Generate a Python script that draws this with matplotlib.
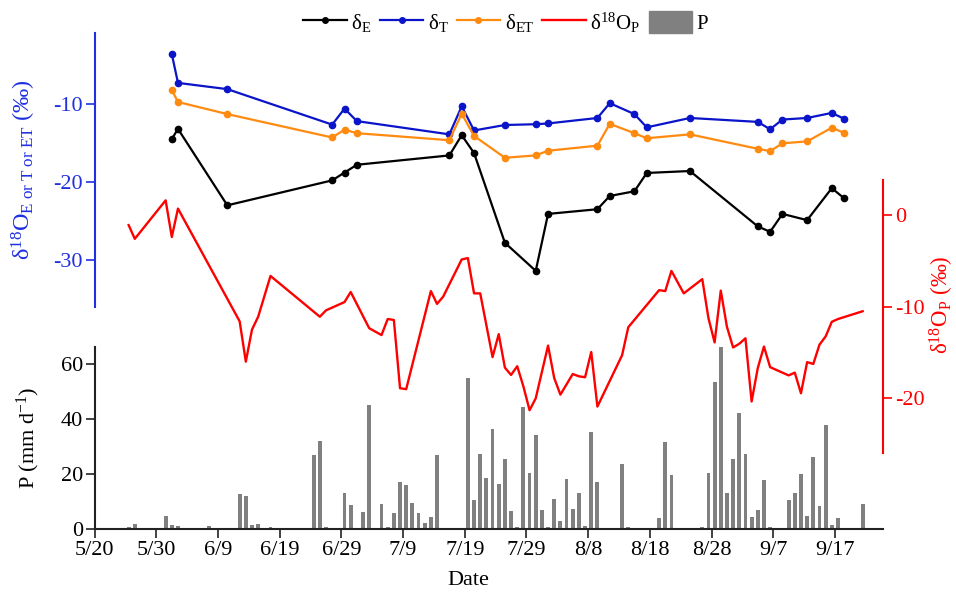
import matplotlib
matplotlib.use("Agg")
import matplotlib.pyplot as plt
from matplotlib.lines import Line2D
from matplotlib.patches import Patch

plt.rcParams['font.family'] = ['Liberation Serif', 'DejaVu Serif']
plt.rcParams['mathtext.fontset'] = 'custom'
plt.rcParams['mathtext.rm'] = 'Liberation Serif'
plt.rcParams['mathtext.it'] = 'Liberation Serif:italic'
plt.rcParams['axes.unicode_minus'] = False

# ---------------- data (day offset since 5/20) ----------------
tick_days = [0, 10, 20, 30, 40, 50, 60, 70, 80, 90, 100, 110, 120]
tick_labels = ['5/20', '5/30', '6/9', '6/19', '6/29', '7/9', '7/19', '7/29',
               '8/8', '8/18', '8/28', '9/7', '9/17']

sample_days = [12.5, 13.5, 21.5, 38.5, 40.5, 42.5, 57.5, 59.5, 61.5, 66.5,
               71.5, 73.5, 81.5, 83.5, 87.5, 89.5, 96.5, 107.5, 109.5, 111.5,
               115.5, 119.5, 121.5]
delta_E = [-14.5, -13.2, -23.0, -19.8, -18.8, -17.8, -16.6, -14.0, -16.3, -27.8,
           -31.4, -24.1, -23.5, -21.8, -21.2, -18.85, -18.6, -25.7, -26.4, -24.1,
           -24.9, -20.8, -22.1]
delta_T = [-3.6, -7.3, -8.1, -12.65, -10.6, -12.2, -13.9, -10.3, -13.4, -12.7,
           -12.6, -12.5, -11.8, -9.9, -11.3, -13.0, -11.8, -12.3, -13.25, -12.0,
           -11.8, -11.15, -11.9]
delta_ET = [-8.2, -9.75, -11.3, -14.3, -13.3, -13.75, -14.65, -11.25, -14.1, -16.9,
            -16.6, -16.0, -15.35, -12.55, -13.75, -14.4, -13.9, -15.75, -16.05, -15.05,
            -14.8, -13.05, -13.7]

rain_iso_days = [5.5, 6.5, 11.5, 12.5, 13.5, 23.5, 24.5, 25.5, 26.5, 28.5,
                 36.5, 37.5, 40.5, 41.5, 44.5, 46.5, 47.5, 48.5, 49.5, 50.5,
                 54.5, 55.5, 56.5, 59.5, 60.5, 61.5, 62.5, 64.5, 65.5, 66.5,
                 67.5, 68.5, 69.5, 70.5, 71.5, 73.5, 74.5, 75.5, 77.5, 78.5,
                 79.5, 80.5, 81.5, 85.5, 86.5, 91.5, 92.5, 93.5, 95.5, 98.5,
                 99.5, 100.5, 101.5, 102.5, 103.5, 104.5, 105.5, 106.5, 107.5, 108.5,
                 109.5, 112.5, 113.5, 114.5, 115.5, 116.5, 117.5, 118.5, 119.5, 120.5,
                 124.5]
delta_P = [-1.1, -2.6, 1.6, -2.4, 0.7, -11.6, -16.0, -12.5, -11.1, -6.65,
           -11.1, -10.4, -9.5, -8.4, -12.35, -13.1, -11.35, -11.45, -18.9, -19.0,
           -8.3, -9.7, -8.9, -4.85, -4.7, -8.55, -8.55, -15.5, -13.0, -16.65,
           -17.45, -16.5, -18.7, -21.3, -20.0, -14.25, -17.8, -19.6, -17.35, -17.6,
           -17.7, -14.95, -20.9, -15.3, -12.25, -8.2, -8.3, -6.1, -8.55, -7.0,
           -11.25, -13.9, -8.25, -12.2, -14.45, -14.05, -13.45, -20.35, -16.7, -14.35,
           -16.6, -17.5, -17.2, -19.45, -16.05, -16.25, -14.15, -13.25, -11.65, -11.35,
           -10.5]

p_days = [5.5, 6.5, 11.5, 12.5, 13.5, 18.5, 23.5, 24.5, 25.5, 26.5,
          28.5, 35.5, 36.5, 37.5, 40.5, 41.5, 43.5, 44.5, 46.5, 47.5,
          48.5, 49.5, 50.5, 51.5, 52.5, 53.5, 54.5, 55.5, 60.5, 61.5,
          62.5, 63.5, 64.5, 65.5, 66.5, 67.5, 68.5, 69.5, 70.5, 71.5,
          72.5, 73.5, 74.5, 75.5, 76.5, 77.5, 78.5, 79.5, 80.5, 81.5,
          85.5, 86.5, 91.5, 92.5, 93.5, 98.5, 99.5, 100.5, 101.5, 102.5,
          103.5, 104.5, 105.5, 106.5, 107.5, 108.5, 109.5, 112.5, 113.5, 114.5,
          115.5, 116.5, 117.5, 118.5, 119.5, 120.5, 124.5]
precip = [0.5, 1.6, 4.7, 1.2, 1.0, 1.0, 12.8, 12.0, 1.2, 1.7,
          0.5, 26.7, 31.8, 0.5, 12.9, 8.6, 6.0, 44.9, 8.9, 0.5,
          5.8, 17.1, 16.0, 9.2, 5.6, 2.0, 4.3, 26.7, 54.8, 10.3,
          27.1, 18.6, 36.3, 16.3, 25.5, 6.4, 0.5, 44.2, 20.4, 34.0,
          6.8, 0.5, 10.7, 2.7, 18.0, 7.3, 13.1, 1.1, 35.2, 17.0,
          23.6, 0.5, 3.9, 31.6, 19.4, 0.5, 20.2, 53.4, 66.1, 12.9,
          25.3, 42.3, 27.2, 4.1, 6.9, 17.7, 0.5, 10.6, 12.9, 19.8,
          4.7, 26.0, 8.2, 37.8, 1.35, 3.9, 8.9]

# ---------------- styles ----------------
W, H = 956, 594
C_BLUE = '#0A14C8'
C_BLUE_AX = '#2030E0'
C_ORANGE = '#FF8A10'
C_RED = '#FF0000'
C_GRAY = '#808080'
FS = 16

fig = plt.figure(figsize=(W / 100, H / 100), dpi=100)

x0, x1 = 94.7, 883.0
XMAX = 127.8

def frac_rect(top_px, bot_px):
    return [x0 / W, 1 - bot_px / H, (x1 - x0) / W, (bot_px - top_px) / H]

axP = fig.add_axes(frac_rect(346.7, 528.7))
axD = fig.add_axes(frac_rect(33.3, 306.7))
axR = fig.add_axes(frac_rect(180.0, 453.3))

for ax in (axP, axD, axR):
    ax.set_xlim(0, XMAX)
    ax.patch.set_alpha(0)

# --- bars
axP.bar(p_days, precip, width=0.62, color=C_GRAY, zorder=2)
axP.set_ylim(0, 66.3)
axP.set_yticks([0, 20, 40, 60])
axP.set_xticks(tick_days)
axP.set_xticklabels(tick_labels)
for s in ('top', 'right'):
    axP.spines[s].set_visible(False)
for s in ('left', 'bottom'):
    axP.spines[s].set_linewidth(1.5)
    axP.spines[s].set_color('#222222')
axP.tick_params(axis='both', direction='out', length=6.5, width=1.2,
                labelsize=FS, colors='#222222', pad=2)
axP.tick_params(axis='both', labelcolor='black')
axP.set_ylabel('P (mm d$^{-1}$)', fontsize=FS)
axP.yaxis.set_label_coords(-0.0667, 0.5)
axP.set_xlabel('Date', fontsize=FS)
axP.xaxis.set_label_coords(0.4736, -0.232)

# --- delta E, T, ET
axD.plot(sample_days, delta_E, color='black', lw=1.6, marker='o', ms=4.5, zorder=3)
axD.plot(sample_days, delta_T, color=C_BLUE, lw=1.6, marker='o', ms=4.5, zorder=3)
axD.plot(sample_days, delta_ET, color=C_ORANGE, lw=1.6, marker='o', ms=4.5, zorder=3)
axD.set_ylim(-36.0, -0.94)
axD.set_yticks([-10, -20, -30])
axD.set_xticks([])
for s in ('top', 'right', 'bottom'):
    axD.spines[s].set_visible(False)
axD.spines['left'].set_color(C_BLUE_AX)
axD.spines['left'].set_linewidth(1.5)
axD.tick_params(axis='y', direction='out', length=6.5, width=1.2,
                labelsize=FS, colors=C_BLUE_AX, pad=2)
axD.set_ylabel('δ$^{18}$O$_\\mathrm{E\\ or\\ T\\ or\\ ET}$ (‰)', fontsize=17.5,
               color=C_BLUE_AX)
axD.yaxis.set_label_coords(-0.072, 0.5)

# --- delta18O of precipitation
axR.plot(rain_iso_days, delta_P, color=C_RED, lw=1.7, zorder=4)
axR.set_ylim(-26.0, 3.82)
axR.set_yticks([0, -10, -20])
axR.set_xticks([])
for s in ('top', 'left', 'bottom'):
    axR.spines[s].set_visible(False)
axR.spines['right'].set_color(C_RED)
axR.spines['right'].set_linewidth(1.5)
axR.yaxis.tick_right()
axR.yaxis.set_label_position('right')
axR.tick_params(axis='y', direction='out', length=6.5, width=1.2,
                labelsize=FS, colors=C_RED, pad=2)
axR.set_ylabel('δ$^{18}$O$_\\mathrm{P}$ (‰)', fontsize=16.5, color=C_RED)
axR.yaxis.set_label_coords(1.057, 0.543)

# --- legend
handles = [
    Line2D([], [], color='black', lw=1.6, marker='o', ms=4),
    Line2D([], [], color=C_BLUE, lw=1.6, marker='o', ms=4),
    Line2D([], [], color=C_ORANGE, lw=1.6, marker='o', ms=4),
    Line2D([], [], color=C_RED, lw=1.7),
    Patch(facecolor=C_GRAY, edgecolor=C_GRAY),
]
labels = ['δ$_\\mathrm{E}$', 'δ$_\\mathrm{T}$', 'δ$_\\mathrm{ET}$',
          'δ$^{18}$O$_\\mathrm{P}$', 'P']
fig.legend(handles, labels, loc='upper center', bbox_to_anchor=(0.529, 1.0),
           ncol=5, frameon=False, fontsize=15, handlelength=2.1,
           handleheight=1.25, handletextpad=0.2, columnspacing=0.4,
           borderaxespad=0.1)

fig.savefig('out.png', dpi=100)
